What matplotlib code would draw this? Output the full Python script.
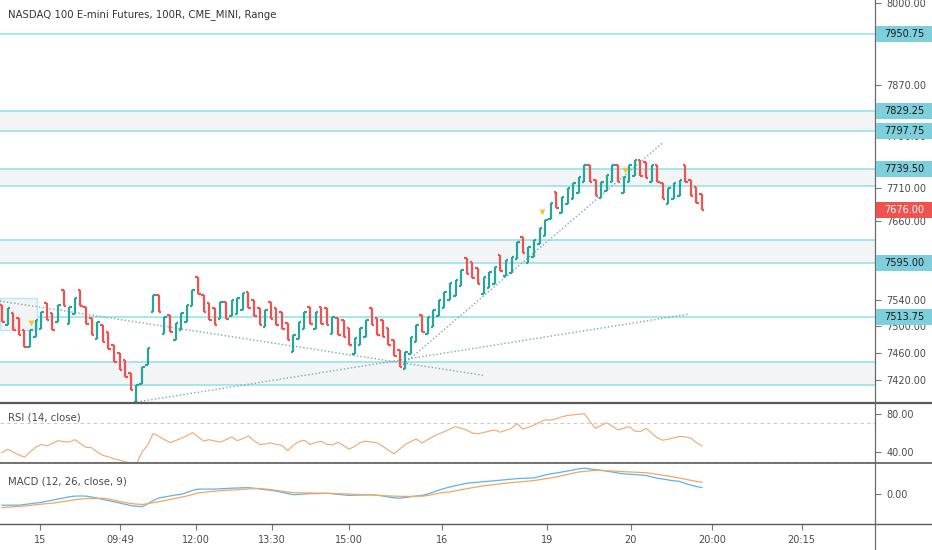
import matplotlib
matplotlib.use('Agg')
import matplotlib.pyplot as plt
from matplotlib.patches import Rectangle
from matplotlib.lines import Line2D
from matplotlib.ticker import FixedLocator, FuncFormatter, NullLocator

title = 'NASDAQ 100 E-mini Futures, 100R, CME_MINI, Range'
range_size = 25

# top of each range bar, and its direction (u = up / teal, d = down / red)
bar_high = [
    7532, 7527, 7520, 7512, 7494, 7494, 7509, 7521, 7535, 7520,
    7532, 7555, 7529, 7543, 7555, 7529, 7512, 7506, 7502, 7491,
    7472, 7460, 7450, 7430, 7412, 7439, 7468, 7547, 7547, 7514,
    7517, 7505, 7520, 7532, 7555, 7574, 7547, 7535, 7527, 7536,
    7536, 7540, 7543, 7550, 7552, 7540, 7527, 7524, 7536, 7527,
    7521, 7505, 7487, 7506, 7521, 7529, 7521, 7529, 7527, 7514,
    7512, 7509, 7497, 7483, 7497, 7509, 7527, 7512, 7509, 7497,
    7480, 7465, 7462, 7484, 7502, 7517, 7514, 7524, 7540, 7552,
    7565, 7570, 7585, 7603, 7597, 7588, 7574, 7582, 7589, 7608,
    7600, 7605, 7627, 7635, 7620, 7630, 7649, 7661, 7687, 7704,
    7696, 7710, 7718, 7727, 7745, 7745, 7722, 7719, 7730, 7745,
    7745, 7727, 7745, 7753, 7753, 7750, 7745, 7745, 7718, 7710,
    7718, 7722, 7745, 7722, 7712, 7701,
]
bar_dir = ('duddduuudd' 'uduudddudd' 'dddduuuudu' 'duuuuddddu' 'duuudddudd'
           'dduuududdu' 'ddduuudddd' 'dduuuduuuu' 'uuuddduuud' 'uuuduuuuud'
           'uuuuudduuu' 'duuudduddu' 'uudddd')

rsi = [
    39.5, 42.9, 40, 37, 34.5, 40, 45, 48, 46.5, 49,
    52, 51, 50.5, 53, 49, 45, 44.5, 40, 36.5, 35,
    33, 31.5, 30, 28, 27.6, 40, 47, 59.5, 56.5, 53,
    50, 52, 54.5, 57, 60.5, 56, 51.5, 53, 51.5, 50.5,
    53, 55.8, 52, 54, 57, 52, 48, 48.5, 49.7, 48,
    47, 41.5, 47, 51, 52.4, 48, 50, 51.4, 48, 47.5,
    50.3, 46.5, 43, 46, 50, 51.4, 50.5, 49.7, 46, 42,
    38, 43, 48, 51, 53.7, 49.5, 53, 56.4, 59, 61.5,
    64, 66.6, 65, 63, 60, 59.2, 60.5, 62, 63.2, 60.8,
    63, 65, 70, 64, 66, 68.3, 71, 74, 73.4, 75,
    77, 78.5, 79, 79.8, 80.2, 72, 65, 68, 70.7, 67,
    63.2, 65, 66.6, 62, 61.5, 64.9, 60, 55, 52.4, 53.5,
    55, 56.4, 56, 54.7, 50, 46.3,
]

macd = [
    -11.2, -11.2, -11.2, -11.2, -10.5, -9.8, -9, -8.4, -7.3, -6.2,
    -5, -4, -2.8, -2.1, -2, -2.1, -3, -4.2, -5.5, -6.6,
    -7.8, -9, -10.3, -11.6, -12.3, -12.6, -10, -6.5, -4, -3,
    -2, -1, -0.3, 1.5, 3.5, 4.9, 4.9, 4.9, 4.9, 5.2,
    5.5, 5.8, 6, 6.2, 6.3, 5.8, 5, 4.3, 3.8, 2.8,
    1.7, 0.5, -0.7, -0.4, 0, 0.3, 0.4, 0.5, 0.7, 0.3,
    -0.3, -0.9, -1.4, -1.2, -1, -0.9, -0.8, -1.2, -2, -3,
    -3.8, -4.2, -3.5, -2.8, -2, -1.4, 0, 1.8, 3.8, 5.6,
    7, 8.3, 9.6, 10.8, 11.3, 11.8, 12.3, 12.8, 13.3, 13.8,
    14.3, 14.9, 15.4, 15.6, 15.9, 16.1, 17.5, 19, 20.2, 21,
    22, 23, 24, 25.2, 25.8, 25, 24.3, 23.7, 22.8, 22,
    21, 20.2, 19.8, 19.4, 19, 18.5, 17.2, 15.8, 15, 14,
    13.2, 12.6, 10.6, 8.9, 7.5, 6.5,
]
signal = [
    -13.6, -13.2, -12.8, -12.4, -12, -11.4, -10.8, -10.2, -9.7, -9.2,
    -8.4, -7.5, -6.6, -5.8, -5, -4.6, -4.4, -4.3, -4.2, -5,
    -6.2, -7.4, -8.6, -9.5, -10.1, -10.5, -9.7, -8.6, -7.7, -6.6,
    -5.5, -4.3, -3.2, -2, -0.5, 1, 1.7, 2.3, 2.8, 3.3,
    3.7, 4, 4.3, 4.7, 5, 5.4, 5.6, 5, 4.4, 3.6,
    2.8, 2, 1.4, 1.2, 1.1, 1, 0.9, 0.8, 0.7, 0.5,
    0.3, 0.1, -0.1, -0.3, -0.5, -0.7, -1, -1.3, -1.6, -1.9,
    -2.1, -2.3, -2.4, -2.4, -2.3, -2.2, -1.5, -0.4, 0.8, 1.7,
    2.1, 3.2, 4.3, 5.3, 6.3, 7.3, 8.1, 8.8, 9.5, 10.2,
    10.9, 11.4, 11.9, 12.4, 12.9, 13.5, 14.3, 15.2, 16.1, 17.2,
    18.4, 19.6, 20.8, 22, 22.6, 23.2, 23.7, 23.6, 23.3, 23,
    22.7, 22.3, 22.1, 21.8, 21.5, 21.3, 20.5, 19.6, 18.8, 17.9,
    16.9, 15.9, 14.8, 13.7, 12.6, 11.8,
]

price_ticks = [7420, 7460, 7500, 7540, 7660, 7710, 7790, 7870, 8000]
level_lines = [7950.75, 7829.25, 7797.75, 7739.5, 7713, 7630, 7595, 7513.75, 7446.75, 7412.5]
zones = [(7797.75, 7829.25), (7713, 7739.5), (7595, 7630), (7412.5, 7446.75)]
axis_tags = [7950.75, 7829.25, 7797.75, 7739.50, 7595.00, 7513.75]
last_price = 7676.00

time_pos = [6.8, 21.1, 34.6, 48.2, 62, 78.6, 97.3, 112.3, 126.8, 142.8]
time_labels = ['15', '09:49', '12:00', '13:30', '15:00', '16', '19', '20', '20:00', '20:15']

marker_idx = [5.1, 96.5, 111.25]
marker_price = [7505, 7673, 7738]

trend_lines = [((-0.4, 85.9), (7538, 7427)),
               ((24.1, 122.5), (7387.5, 7518)),
               ((71.1, 118.0), (7439, 7780))]
box_x = (-0.4, 6.25)
box_y = (7494.5, 7542.5)

teal = '#26a69a'
red = '#ef5350'
cyan = '#8fe0ea'
txt = '#4a4a4a'

W, H = 932, 550
axis_x = 875
fig = plt.figure(figsize=(W / 100, H / 100), dpi=100)


def frac(x0, y0, w, h):
    return [x0 / W, 1 - (y0 + h) / H, w / W, h / H]


ax = fig.add_axes(frac(0, 0, axis_x, 403))
ax_rsi = fig.add_axes(frac(0, 403, axis_x, 60), sharex=ax)
ax_macd = fig.add_axes(frac(0, 463, axis_x, 61), sharex=ax)

for a in (ax, ax_rsi, ax_macd):
    for s in ('top', 'left', 'bottom', 'right'):
        a.spines[s].set_visible(False)
    a.yaxis.tick_right()
    a.tick_params(axis='y', length=4, width=0.8, color='#777777',
                  labelsize=7, labelcolor=txt, pad=4)
    a.yaxis.set_major_formatter(FuncFormatter(lambda v, p: f'{v:.2f}'))
    a.yaxis.set_minor_locator(NullLocator())
    a.set_facecolor('white')

ax.tick_params(axis='x', bottom=False, labelbottom=False)
ax_rsi.tick_params(axis='x', bottom=False, labelbottom=False)

# price pane
ax.set_yscale('log')
ax.set_ylim(7386, 8005)
ax.yaxis.set_major_locator(FixedLocator(price_ticks))
ax.yaxis.set_minor_locator(NullLocator())
ax.yaxis.set_major_formatter(FuncFormatter(lambda v, p: f'{v:.2f}'))
ax.set_xlim(-0.357, 155.9)

for lo, hi in zones:
    ax.axhspan(lo, hi, color='#f3f4f6', lw=0, zorder=0)
for lv in level_lines:
    ax.axhline(lv, color=cyan, lw=1.1, zorder=1)

ax.add_patch(Rectangle((box_x[0], box_y[0]), box_x[1] - box_x[0], box_y[1] - box_y[0],
                       facecolor='#f1f3f5', edgecolor='#b6e8ee', lw=1, zorder=1))

for xs, ys in trend_lines:
    ax.plot(xs, ys, color='#7aa9a9', lw=1, ls=(0, (1, 1.6)), zorder=2)

w = 0.45
for i, (hi, d) in enumerate(zip(bar_high, bar_dir)):
    lo = hi - range_size
    c = teal if d == 'u' else red
    op, cl = (lo, hi) if d == 'u' else (hi, lo)
    ax.vlines(i, lo, hi, color=c, lw=1.6, zorder=3)
    ax.hlines(op, i - w, i, color=c, lw=1.6, zorder=3)
    ax.hlines(cl, i, i + w, color=c, lw=1.6, zorder=3)

ax.scatter(marker_idx, marker_price, marker='v', s=18, color='#f7c325', lw=0, zorder=4)

ax.text(8 / axis_x, 1 - 15 / 403, title, transform=ax.transAxes,
        fontsize=7.3, color='#333333', va='center', ha='left')

# RSI pane
x_idx = list(range(len(rsi)))
ax_rsi.plot(x_idx, rsi, color='#f4a56c', lw=0.8)
ax_rsi.set_ylim(28.5, 91.5)
ax_rsi.set_yticks([40, 80])
for lv in (70, 30):
    ax_rsi.axhline(lv, color='#c9c9c9', lw=0.8, ls=(0, (3, 3)))
ax_rsi.text(8 / axis_x, 1 - 15 / 60, 'RSI (14, close)', transform=ax_rsi.transAxes,
            fontsize=7.3, color=txt, va='center', ha='left')

# MACD pane
ax_macd.plot(x_idx, macd, color='#5cb3ec', lw=0.9)
ax_macd.plot(x_idx, signal, color='#f7a55e', lw=0.9)
ax_macd.set_ylim(-30, 31)
ax_macd.set_yticks([0])
ax_macd.text(8 / axis_x, 1 - 18 / 61, 'MACD (12, 26, close, 9)', transform=ax_macd.transAxes,
             fontsize=7.3, color=txt, va='center', ha='left')
ax_macd.set_xticks(time_pos)
ax_macd.set_xticklabels(time_labels)
ax_macd.tick_params(axis='x', length=4, width=0.8, color='#777777',
                    labelsize=7, labelcolor=txt, pad=4)

# pane separators and price axis line
for yy, lw in ((403, 1.6), (463, 1.2), (524, 1.0)):
    fig.add_artist(Line2D([0, 1], [1 - yy / H, 1 - yy / H], transform=fig.transFigure,
                          color='#5a5a5a', lw=lw))
fig.add_artist(Line2D([axis_x / W, axis_x / W], [0, 1], transform=fig.transFigure,
                      color='#6a6a6a', lw=0.9))

# price tags on the axis
inv = fig.transFigure.inverted()


def tag(price, face, fg):
    yf = inv.transform(ax.transData.transform((0, price)))[1]
    fig.add_artist(Rectangle(((axis_x + 1) / W, yf - 8 / H), (W - axis_x - 1) / W, 16 / H,
                             transform=fig.transFigure, facecolor=face, edgecolor='none', zorder=5))
    fig.text((axis_x + 9) / W, yf, f'{price:.2f}', fontsize=7, color=fg,
             va='center', ha='left', zorder=6)


for p in axis_tags:
    tag(p, '#7ecfdc', '#1a1a1a')
tag(last_price, '#ef5350', 'white')

fig.savefig('out.png', dpi=100)
